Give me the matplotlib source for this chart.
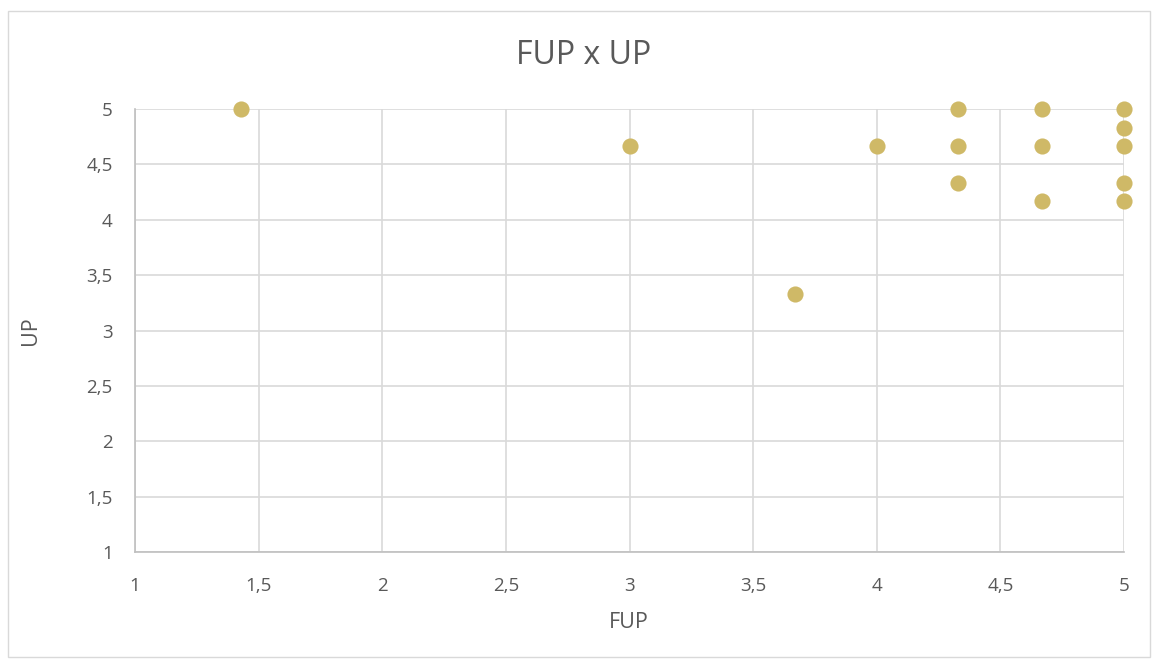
import matplotlib.pyplot as plt
from matplotlib.patches import Rectangle

# Data
fup = [1.43, 3.0, 3.67, 4.0, 4.33, 4.33, 4.33, 4.67, 4.67, 4.67, 5.0, 5.0, 5.0, 5.0, 5.0]
up = [5.0, 4.67, 3.33, 4.67, 5.0, 4.67, 4.33, 5.0, 4.67, 4.17, 5.0, 4.83, 4.67, 4.33, 4.17]

ticks = [1, 1.5, 2, 2.5, 3, 3.5, 4, 4.5, 5]
tick_labels = ["1", "1,5", "2", "2,5", "3", "3,5", "4", "4,5", "5"]

plt.rcParams['font.family'] = ['Open Sans', 'DejaVu Sans']
text_color = '#595959'

W, H = 1155, 661
fig = plt.figure(figsize=(W / 100, H / 100), dpi=100)
fig.patches.append(Rectangle((8 / W, 4 / H), 1142 / W, 646 / H, transform=fig.transFigure,
                             fill=False, edgecolor='#D9D9D9', linewidth=1.0))

ax = fig.add_axes([135 / W, (H - 552) / H, (1124 - 135) / W, (552 - 109) / H])
ax.scatter(fup, up, s=135, color='#CFB967', zorder=3, clip_on=False, linewidths=0)

ax.set_xlim(1, 5)
ax.set_ylim(1, 5)
ax.set_xticks(ticks)
ax.set_xticklabels(tick_labels)
ax.set_yticks(ticks)
ax.set_yticklabels(tick_labels)
ax.tick_params(length=0, labelsize=13.5, labelcolor=text_color)
ax.tick_params(axis='x', pad=18)
ax.tick_params(axis='y', pad=16)
ax.grid(color='#D9D9D9', linewidth=1.2)
ax.set_axisbelow(True)
for s in ['top', 'right']:
    ax.spines[s].set_visible(False)
for s in ['left', 'bottom']:
    ax.spines[s].set_color('#BFBFBF')
    ax.spines[s].set_linewidth(1.2)

fig.text(629 / W, 1 - 622 / H, "FUP", ha='center', va='center', fontsize=15.5, color=text_color)
fig.text(31 / W, 1 - 331 / H, "UP", ha='center', va='center', rotation=90, fontsize=15.5, color=text_color)
fig.text(584 / W, 1 - 55 / H, "FUP x UP", ha='center', va='center', fontsize=23, color=text_color)

plt.savefig("out.png", dpi=100)
plt.close()
